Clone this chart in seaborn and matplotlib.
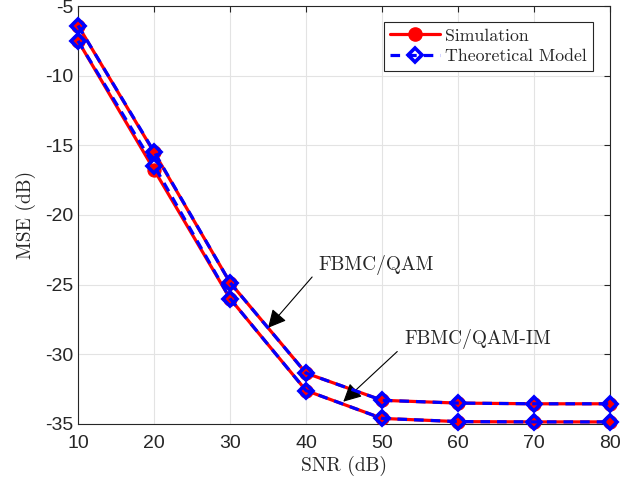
import numpy as np
import pandas as pd
import seaborn as sns
import matplotlib
matplotlib.use("Agg")
import matplotlib.pyplot as plt
from matplotlib.lines import Line2D

#%% Data
snr = [10, 20, 30, 40, 50, 60, 70, 80]
mse_qam_sim = [-6.4, -15.5, -24.85, -31.35, -33.3, -33.5, -33.55, -33.55]
mse_qam_theo = [-6.4, -15.45, -24.85, -31.35, -33.3, -33.5, -33.55, -33.55]
mse_im_sim = [-7.5, -16.75, -26.0, -32.6, -34.6, -34.83, -34.85, -34.85]
mse_im_theo = [-7.5, -16.45, -26.0, -32.6, -34.6, -34.83, -34.85, -34.85]

xticks = [10, 20, 30, 40, 50, 60, 70, 80]
yticks = [-35, -30, -25, -20, -15, -10, -5]

#%% Style
sns.set_style("whitegrid")
plt.rcParams["font.family"] = ["Liberation Sans", "DejaVu Sans"]
plt.rcParams["axes.unicode_minus"] = False
serif = "cmr10"

fig = plt.figure(figsize=(6.37, 4.84), dpi=100)
ax = fig.add_axes([0.1225, 0.124, 0.8352, 0.8636])

df = pd.DataFrame({"snr": snr, "qs": mse_qam_sim, "qt": mse_qam_theo,
                   "is": mse_im_sim, "it": mse_im_theo})

for sim, theo in [("qs", "qt"), ("is", "it")]:
    sns.lineplot(data=df, x="snr", y=sim, ax=ax, color="red", lw=2.3,
                 marker="o", markersize=9.5, markeredgecolor="red",
                 markerfacecolor="red", zorder=3, clip_on=False)
    sns.lineplot(data=df, x="snr", y=theo, ax=ax, color="blue", lw=2.3,
                 marker="D", markersize=7.5, markeredgecolor="blue",
                 markerfacecolor="none", markeredgewidth=2.6,
                 dashes=(3, 2.2), zorder=4, clip_on=False)

ax.set_xlim(10, 80)
ax.set_ylim(-35, -5)
ax.set_xticks(xticks)
ax.set_yticks(yticks)
ax.set_yticklabels([str(v) for v in yticks])
ax.tick_params(direction="in", top=True, right=True, length=4, width=0.8,
               labelsize=14, colors="#262626", pad=3)
ax.tick_params(axis="x", pad=8)
ax.grid(True, color="#e3e3e3", lw=0.8)
for s in ax.spines.values():
    s.set_visible(True)
    s.set_color("#262626")
    s.set_linewidth(0.8)

ax.set_xlabel("SNR (dB)", family=serif, fontsize=14, labelpad=3)
ax.set_ylabel("MSE (dB)", family=serif, fontsize=14, labelpad=7)

# text labels and arrows
ax.text(41.6, -23.6, "FBMC/QAM", family=serif, fontsize=14,
        va="center", ha="left")
ax.text(53.0, -28.9, "FBMC/QAM-IM", family=serif, fontsize=14,
        va="center", ha="left")
arrow = dict(arrowstyle="-|>,head_length=0.55,head_width=0.28", color="k",
             lw=0.8, mutation_scale=20, shrinkA=0, shrinkB=0)
ax.annotate("", xy=(35.0, -28.1), xytext=(40.8, -24.45), arrowprops=arrow)
ax.annotate("", xy=(44.9, -33.4), xytext=(52.0, -29.8), arrowprops=arrow)

# legend
h_sim = Line2D([], [], color="red", lw=2.3, marker="o", markersize=9.5)
h_theo = Line2D([], [], color="blue", lw=2.3, marker="D", markersize=7.5,
                markerfacecolor="none", markeredgewidth=2.6, dashes=(3, 2.2))
leg = ax.legend([h_sim, h_theo], ["Simulation", "Theoretical Model"],
                loc="upper right", bbox_to_anchor=(0.968, 0.962),
                prop={"family": serif, "size": 12.8}, frameon=True,
                fancybox=False, edgecolor="#262626", framealpha=1,
                handlelength=2.8, borderpad=0.35, labelspacing=0.3,
                handletextpad=0.3, borderaxespad=0)
leg.get_frame().set_linewidth(0.8)

fig.savefig("out.png", dpi=100)
